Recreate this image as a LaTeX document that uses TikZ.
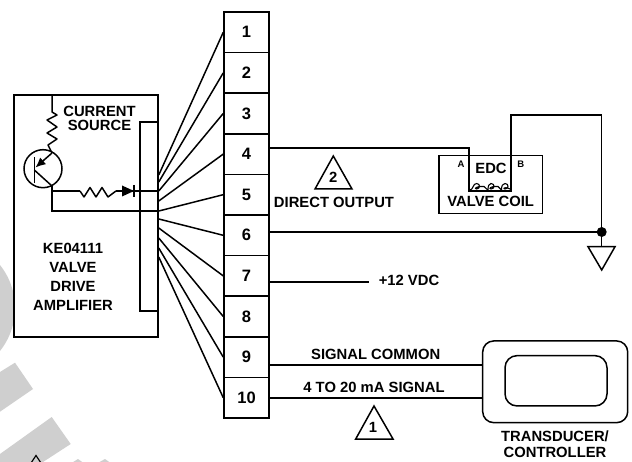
\documentclass[tikz,border=0pt]{standalone}
\usepackage{fontspec}
\setmainfont{Liberation Sans}
\usetikzlibrary{arrows.meta,calc}
\tikzset{
  wire/.style={black,line width=1.5pt,line join=miter},
  mark gray/.style={fill=black!19,draw=none},
  termbox/.style={draw=black,fill=white,line width=1.5pt,minimum width=45pt,minimum height=40.6pt,inner sep=0pt,font=\fontsize{16.5}{18}\bfseries\selectfont},
  lbl/.style={scale=1,color=black,align=center,inner sep=0pt,font=\fontsize{14.8}{19.2}\bfseries\selectfont},
  small lbl/.style={color=black,inner sep=0pt,font=\fontsize{9.5}{11}\bfseries\selectfont},
  note tri/.style={black,line width=1.5pt,line join=miter,fill=white},
}
\begin{document}
\begin{tikzpicture}[x=1pt,y=-1pt]
% ==========================================
\useasboundingbox (0,0) rectangle (632,462);
\clip (0,0) rectangle (632,462);
\fill[white] (0,0) rectangle (632,462);
% gray marks behind the drawing
\fill[mark gray] (-54,308) circle (69);
\fill[mark gray] (0,372) -- (15,362.7) -- (33,389) -- (0,411.7) -- cycle;
\fill[mark gray] (0,454) -- (51.7,417) -- (70.7,444) -- (43,462) -- (0,462) -- cycle;
\fill[mark gray] (70,464) -- (78,459) -- (85,464) -- cycle;
\fill[mark gray] (96,464) -- (105,459) -- (112,464) -- cycle;
\draw[wire,line width=1.2pt] (31,463) -- (36,455.5) -- (41,463);
% ==========================================
% amplifier box
\node (amp) at (86,216) [draw=black,fill=white,line width=1.5pt,minimum width=144pt,minimum height=242pt,inner sep=0pt] {};
\draw[wire] (158,122) -- (140,122) -- (140,311) -- (158,311);
\node (src) at (99.5,118.3) [lbl,font=\fontsize{14.8}{14.7}\bfseries\selectfont] {CURRENT\\SOURCE};
\node (name) at (73,276.7) [lbl] {KE04111\\VALVE\\DRIVE\\AMPLIFIER};
% terminal strip
\foreach \i in {1,...,10} {
  \node (t\i) at (246.5,{32.3+40.6*(\i-1)}) [termbox] {\i};
}
% fan of wires
\foreach \i/\y in {1/175,2/182,3/191,4/201,5/211,6/219,7/228,8/238,9/248,10/257} {
  \coordinate (f\i) at (amp.east |- 0,\y);
  \draw[wire] (f\i) -- (t\i.west);
}
% transistor
\node (q1) at (43,168.7) [draw=black,circle,line width=1.5pt,minimum size=38pt,inner sep=0pt] {};
\coordinate (base top) at (34.3,157.5);
\coordinate (base bot) at (34.3,183.5);
\coordinate (emit) at (52,153);
\coordinate (coll) at (52,186);
\coordinate (rail top) at (52,95);
\draw[wire] (base top) -- (base bot);
\draw[wire,-{Latex[length=10pt,width=9pt]}] (emit) -- (35.5,167.5);
\draw[wire] (34.3,170) -- (coll);
% top resistor
\draw[wire,line join=round] (rail top) -- (52,112) -- (57,115) -- (47,120) -- (57,127) -- (47,133) -- (57,139) -- (48,145) -- (emit);
% series resistor and diode
\coordinate (rtap) at (52,191);
\coordinate (dtip) at (134,191);
\coordinate (dend) at (amp.east |- rtap);
\draw[wire] (coll) -- (rtap) -- (80,191);
\draw[wire,line join=round] (80,191) -- (84,197) -- (90,187.5) -- (96,197) -- (102,187.5) -- (108,197) -- (116,191);
\draw[wire] (116,191) -- (dend);
\fill[black] (122,185.5) -- (dtip) -- (122,196.5) -- cycle;
\draw[wire] (134,185) -- (134,197);
% return wire
\coordinate (rbot) at (52,211);
\coordinate (rend) at (amp.east |- rbot);
\draw[wire] (rtap) -- (rbot) -- (rend);
% ==========================================
% valve coil
\node (coil) at (490.8,184.5) [draw=black,fill=white,line width=1.5pt,minimum width=103.7pt,minimum height=57.6pt,inner sep=0pt] {};
\node (a) at (461,164) [small lbl] {A};
\node (b) at (520.7,164) [small lbl] {B};
\node (edc) at (491,168) [lbl] {EDC};
\node (vc) at (490.7,201.7) [lbl] {VALVE COIL};
\coordinate (ca) at (469,148);
\coordinate (cb) at (511,115);
\coordinate (ctop) at (601.7,115);
\draw[wire] (t4.east |- ca) -- (ca) -- (469,191) -- (511,191) -- (cb) -- (ctop);
\draw[black,line width=1.1pt] (470,190) .. controls (473,190) and (473,183.5) .. (476.5,183.5) .. controls (480.5,183.5) and (480.5,189) .. (476.5,189) .. controls (474.5,189) and (475,186) .. (484,186.5) .. controls (486,187) and (486,190) .. (488,190) .. controls (488,186) and (489,183.5) .. (491,183.5) .. controls (495,183.5) and (495,189) .. (491,189) .. controls (489,189) and (489.5,186) .. (498,186.5) .. controls (500,187) and (500,190) .. (501.5,190) .. controls (501.5,186) and (502.5,183.5) .. (505,183.5) .. controls (509,183.5) and (509,189) .. (505,189) .. controls (503,189) and (503.5,186) .. (510,189);
% ground
\coordinate (gnd) at (601.7,232);
\draw[wire] (ctop) -- (gnd);
\draw[wire] (t6.east |- gnd) -- (gnd);
\fill[black] (gnd) circle (5);
\coordinate (gtop) at (601.7,246.7);
\draw[wire] (gnd) -- (gtop);
\draw[note tri] (588,246.7) -- (615,246.7) -- (601.7,270) -- cycle;
% note 2
\draw[note tri] (333.3,156) -- (352,189) -- (315,189) -- cycle;
\node (n2) at (333.3,177.5) [lbl] {2};
\node (dir) at (334,202) [lbl] {DIRECT OUTPUT};
% 12 V supply
\coordinate (vend) at (369,282);
\draw[wire] (t7.east |- vend) -- (vend);
\node (v12) at (409,280.5) [lbl] {+12 VDC};
% transducer
\node (trans) at (555.2,381.8) [draw=black,fill=white,line width=1.5pt,rounded corners=11pt,minimum width=145pt,minimum height=81.7pt,inner sep=0pt] {};
\node (screen) at (556,380.8) [draw=black,line width=1.5pt,rounded corners=12pt,minimum width=102pt,minimum height=50.3pt,inner sep=0pt] {};
\coordinate (s9) at (trans.west |- 0,365);
\coordinate (s10) at (trans.west |- 0,398);
\draw[wire] (t9.east |- s9) -- (s9);
\draw[wire] (t10.east |- s10) -- (s10);
\node (com) at (375.7,354) [lbl] {SIGNAL COMMON};
\node (sig) at (374,387) [lbl] {4 TO 20 mA SIGNAL};
\draw[note tri] (374,406) -- (393,439) -- (355.7,439) -- cycle;
\node (n1) at (373,427) [lbl] {1};
\node (tlbl) at (555,444.3) [lbl,font=\fontsize{14.8}{16.7}\bfseries\selectfont] {TRANSDUCER/\\CONTROLLER};
% =============================================
\end{tikzpicture}
\end{document}
